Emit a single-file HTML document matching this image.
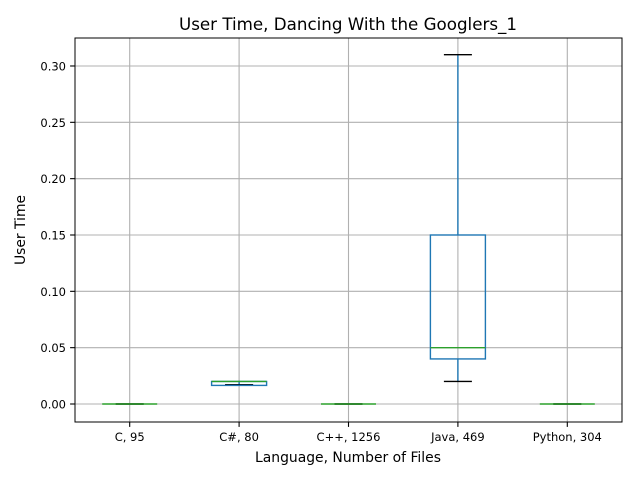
<!DOCTYPE html>
<html><head><meta charset="utf-8"><style>
body{margin:0;background:#fff;font-family:"DejaVu Sans","Liberation Sans",sans-serif}
</style></head><body>
<svg width="640" height="480" xmlns="http://www.w3.org/2000/svg" font-family="DejaVu Sans, Liberation Sans, sans-serif">
<g id="grid"></g>
<g id="boxes"></g>
<rect x="75" y="38" width="547" height="384" fill="none" stroke="#000" stroke-width="1"/>
<g id="ticks"></g>
<text x="348" y="30" text-anchor="middle" font-size="16.7">User Time, Dancing With the Googlers_1</text>
<text x="348" y="462" text-anchor="middle" font-size="13.9">Language, Number of Files</text>
<text transform="translate(25,230) rotate(-90)" text-anchor="middle" font-size="13.9">User Time</text>
</svg>
<script>
const categories=["C, 95","C#, 80","C++, 1256","Java, 469","Python, 304"];
const whiskLo=[0,0.017,0,0.02,0];
const q1=[0,0.0165,0,0.04,0];
const medians=[0,0.02,0,0.05,0];
const q3=[0,0.02,0,0.15,0];
const whiskHi=[0,0.017,0,0.31,0];
const yTicks=[0,0.05,0.10,0.15,0.20,0.25,0.30];
const yLabels=["0.00","0.05","0.10","0.15","0.20","0.25","0.30"];
const L=75,R=622,T=38,B=422;
const y=v=>404-v*1126.7;
const x=i=>L+(R-L)*(i+0.5)/categories.length;
const NS="http://www.w3.org/2000/svg";
function mk(p,t,a){const e=document.createElementNS(NS,t);for(const k in a)e.setAttribute(k,a[k]);p.appendChild(e);return e;}
const grid=document.getElementById('grid'),ticks=document.getElementById('ticks'),boxes=document.getElementById('boxes');
yTicks.forEach((v,i)=>{
 const g=mk(grid,'line',{x1:L,x2:R,y1:y(v),y2:y(v),stroke:'#b0b0b0','stroke-width':1.1});
 
 
 mk(ticks,'line',{x1:L-4.9,x2:L,y1:y(v),y2:y(v),stroke:'#000','stroke-width':1.1});
 const t=mk(ticks,'text',{x:L-9,y:y(v)+4.5,'text-anchor':'end','font-size':11.5});
 t.textContent=yLabels[i];
 
 
});
categories.forEach((c,i)=>{
 const cx=x(i);
 const g=mk(grid,'line',{x1:cx,x2:cx,y1:T,y2:B,stroke:'#b0b0b0','stroke-width':1.1});
 
 
 mk(ticks,'line',{x1:cx,x2:cx,y1:B,y2:B+4.9,stroke:'#000','stroke-width':1.1});
 const t=mk(ticks,'text',{x:cx,y:B+19,'text-anchor':'middle','font-size':11.5});
 t.textContent=c;
 
 
 const grp=mk(boxes,'g',{});
 
 
 const hw=27.5,cw=14;
 const sw=1.4;
 mk(grp,'line',{x1:cx,x2:cx,y1:y(q1[i]),y2:y(whiskLo[i]),stroke:'#1f77b4','stroke-width':sw});
 mk(grp,'line',{x1:cx,x2:cx,y1:y(q3[i]),y2:y(whiskHi[i]),stroke:'#1f77b4','stroke-width':sw});
 mk(grp,'line',{x1:cx-cw,x2:cx+cw,y1:y(whiskLo[i]),y2:y(whiskLo[i]),stroke:'#000','stroke-width':sw});
 mk(grp,'line',{x1:cx-cw,x2:cx+cw,y1:y(whiskHi[i]),y2:y(whiskHi[i]),stroke:'#000','stroke-width':sw});
 mk(grp,'rect',{x:cx-hw,y:y(q3[i]),width:2*hw,height:Math.max(0,y(q1[i])-y(q3[i])),fill:'none',stroke:'#1f77b4','stroke-width':sw});
 mk(grp,'line',{x1:cx-hw,x2:cx+hw,y1:y(medians[i]),y2:y(medians[i]),stroke:'#2ca02c','stroke-width':sw});
});
</script>
</body></html>
